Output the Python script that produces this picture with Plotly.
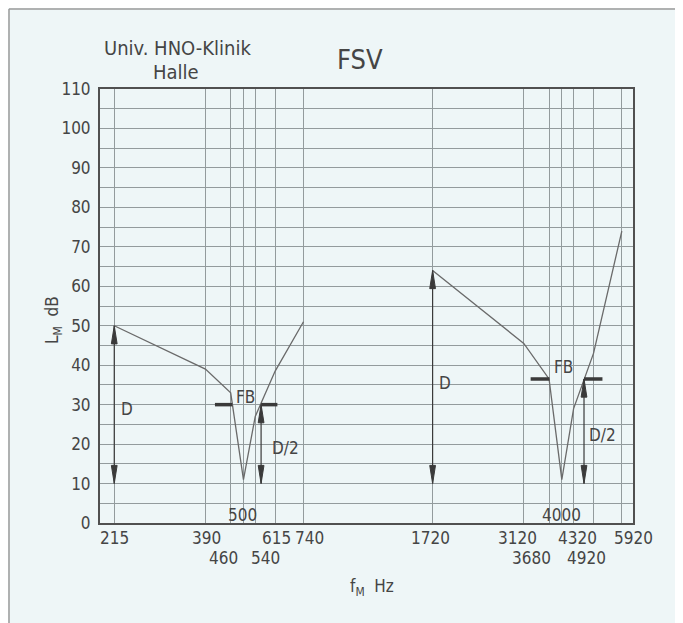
import math
import plotly.graph_objects as go

# ---------------- data ----------------
left_freq = [215, 390, 460, 500, 540, 615, 740]
left_level = [50, 39, 33, 11, 27, 38.5, 51]
right_freq = [1720, 3120, 3680, 4000, 4320, 4920, 5920]
right_level = [64, 45.5, 36.5, 11, 29, 43, 74]

grid_freqs = left_freq + right_freq
y_ticks = list(range(0, 111, 10))

tick_row_top = [215, 390, 615, 740, 1720, 3120, 4320, 5920]
tick_row_bottom = [460, 540, 3680, 4920]
tick_row_inside = [500, 4000]

# D (dynamic) arrows
d_freq = [215, 1720]
d_top = [50, 64]
d_bottom = [10, 10]
# D/2 arrows
d2_freq = [561, 4624]
d2_top = [30, 36.5]
d2_bottom = [10, 10]
# FB bars
fb_level = [30, 36.5]
fb_bar_left = [[415, 465], [3263, 3690]]
fb_bar_right = [[561, 624], [4624, 5216]]

# ---------------- style ----------------
FONT = "DejaVu Sans Condensed, Liberation Sans Narrow, DejaVu Sans, sans-serif"
BG = "#eef6f7"
GRID = "#939b9d"
AXIS = "#505050"
TXT = "#454545"
CURVE = "#6a6a6a"
ARROW = "#3a3a3a"

OFF = 8  # page body margin of the html page
W, H = 683, 623
PX0, PX1, PY0, PY1 = 100, 633, 89, 523  # plot box in page pixels

def px_x(p):
    return (p - PX0) / (PX1 - PX0)

def px_y(p):
    return (PY1 - p) / (PY1 - PY0)

label_shift = {215: 0, 390: 1, 615: 1, 740: 6, 1720: -2.5, 3120: -6.5, 4320: 3.5,
               5920: 12, 460: -7, 540: 10, 3680: -17.5, 4920: -7, 500: -1, 4000: 0}

fig = go.Figure()

# curves
fig.add_trace(go.Scatter(x=left_freq, y=left_level, mode="lines",
                         line=dict(color=CURVE, width=1.3), hoverinfo="skip"))
fig.add_trace(go.Scatter(x=right_freq, y=right_level, mode="lines",
                         line=dict(color=CURVE, width=1.3), hoverinfo="skip"))

arrows = list(zip(d_freq, d_top, d_bottom)) + list(zip(d2_freq, d2_top, d2_bottom))

# arrow shafts
shaft_x, shaft_y = [], []
for f, t, b in arrows:
    shaft_x += [f, f, None]
    shaft_y += [t, b, None]
fig.add_trace(go.Scatter(x=shaft_x, y=shaft_y, mode="lines",
                         line=dict(color=ARROW, width=1.2), hoverinfo="skip"))

# arrow heads (narrow triangles)
HEAD_LEN = 4.6   # dB
HEAD_W = 1.019   # multiplicative half-width on log axis
hx, hy = [], []
for f, t, b in arrows:
    hx += [f, f / HEAD_W, f * HEAD_W, f, None]
    hy += [t, t - HEAD_LEN, t - HEAD_LEN, t, None]
    hx += [f, f / HEAD_W, f * HEAD_W, f, None]
    hy += [b, b + HEAD_LEN, b + HEAD_LEN, b, None]
fig.add_trace(go.Scatter(x=hx, y=hy, mode="lines", fill="toself", fillcolor=ARROW,
                         line=dict(color=ARROW, width=1), hoverinfo="skip"))

# FB bars
bx, by = [], []
for lvl, lb, rb in zip(fb_level, fb_bar_left, fb_bar_right):
    bx += [lb[0], lb[1], None, rb[0], rb[1], None]
    by += [lvl, lvl, None, lvl, lvl, None]
fig.add_trace(go.Scatter(x=bx, y=by, mode="lines",
                         line=dict(color=ARROW, width=3.5), hoverinfo="skip"))

ann = []

def txt(x, y, text, size=17, xref="x", yref="y", xshift=0, angle=0):
    ann.append(dict(x=x, y=y, xref=xref, yref=yref, text=text, showarrow=False,
                    xanchor="center", yanchor="middle", xshift=xshift, textangle=angle,
                    font=dict(size=size, color=TXT)))

# x tick labels in three rows
for row, ypix in ((tick_row_top, 538), (tick_row_bottom, 558), (tick_row_inside, 515)):
    for f in row:
        txt(math.log10(f), px_y(ypix), str(f), yref="paper", xshift=label_shift[f])

# D labels
txt(math.log10(d_freq[0]), 29, "D", xshift=13)
txt(math.log10(d_freq[1]), 35.5, "D", xshift=12)
# FB labels
txt(math.log10(500), 32, "FB", xshift=2)
txt(math.log10(4000), 39.6, "FB", xshift=1.5)
# D/2 labels
txt(math.log10(d2_freq[0]), 19, "D/2", xshift=24)
txt(math.log10(d2_freq[1]), 22.3, "D/2", xshift=18)

# header texts
txt(px_x(177.5), px_y(48), "Univ. HNO-Klinik", size=20, xref="paper", yref="paper")
txt(px_x(176), px_y(72), "Halle", size=20, xref="paper", yref="paper")
txt(px_x(359.5), px_y(60), "FSV", size=27, xref="paper", yref="paper")
# axis titles
txt(px_x(53), px_y(320), "L<sub>M</sub>  dB", xref="paper", yref="paper", angle=-90)
txt(px_x(371.5), px_y(587), "f<sub>M</sub>  Hz", xref="paper", yref="paper")

shapes = [
    dict(type="line", xref="paper", yref="paper", x0=px_x(9), x1=px_x(9), y0=px_y(9), y1=px_y(H),
         line=dict(color="#9a9a9a", width=1.5)),
    dict(type="line", xref="paper", yref="paper", x0=px_x(9), x1=px_x(W), y0=px_y(9), y1=px_y(9),
         line=dict(color="#9a9a9a", width=1.5)),
]

fig.update_layout(
    width=W, height=H,
    margin=dict(l=PX0 - OFF, r=W - (PX1 - OFF), t=PY0 - OFF, b=H - (PY1 - OFF)),
    paper_bgcolor=BG, plot_bgcolor=BG, showlegend=False,
    font=dict(family=FONT, size=17, color=TXT),
    annotations=ann, shapes=shapes,
    xaxis=dict(type="log", range=[2.292, 3.804], tickvals=grid_freqs, showticklabels=False,
               showgrid=True, gridcolor=GRID, gridwidth=1, ticks="",
               showline=True, mirror=True, linecolor=AXIS, linewidth=2, zeroline=False),
    yaxis=dict(range=[0, 110], tickvals=y_ticks, showgrid=True, gridcolor=GRID, gridwidth=1,
               minor=dict(dtick=5, showgrid=True, gridcolor=GRID, gridwidth=1),
               ticks="", ticklabelstandoff=4, showline=True, mirror=True, linecolor=AXIS,
               linewidth=2, zeroline=False, tickfont=dict(size=17, color=TXT)),
)

fig.write_html("out.html")
